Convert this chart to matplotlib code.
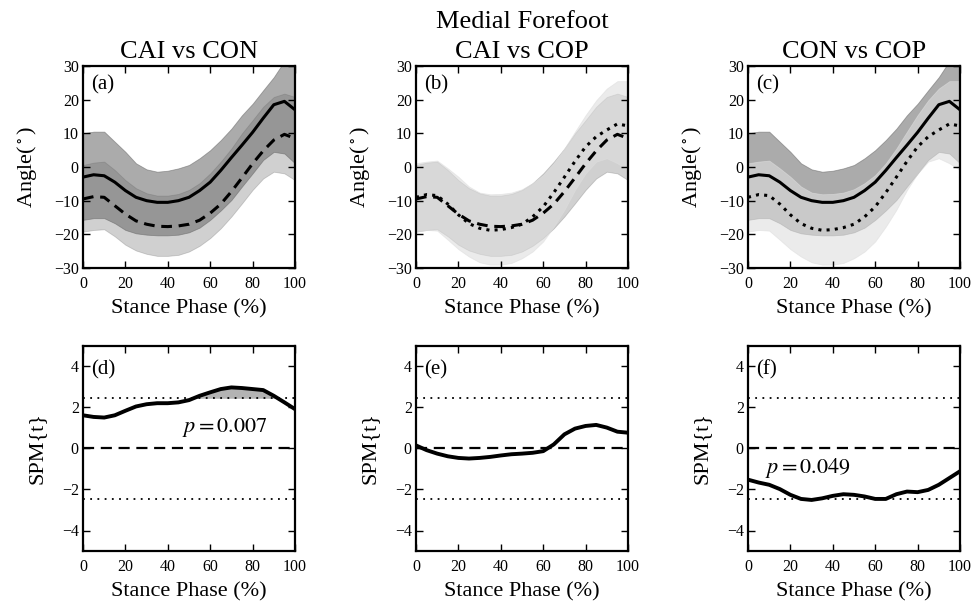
import numpy as np
import matplotlib
matplotlib.use("Agg")
import matplotlib.pyplot as plt

plt.rcParams['font.family'] = ['Liberation Serif', 'DejaVu Serif']
plt.rcParams['mathtext.fontset'] = 'stix'

# ---------------- data ----------------
stance = [0, 5, 10, 15, 20, 25, 30, 35, 40, 45, 50, 55, 60, 65, 70, 75, 80, 85, 90, 95, 100]

con_mean = [-3.0, -2.3, -2.6, -4.5, -7.0, -9.0, -10.0, -10.5, -10.5, -10.0, -9.0, -7.0, -4.5, -1.0, 2.8, 6.5, 10.3, 14.5, 18.5, 19.5, 17.0]
con_upper = [10.0, 10.5, 10.5, 7.5, 4.5, 1.1, -0.7, -1.4, -1.1, -0.4, 0.6, 2.6, 5.0, 8.0, 11.4, 15.4, 18.8, 22.8, 26.7, 31.5, 33.0]
con_lower = [-15.7, -15.2, -15.2, -16.7, -18.7, -19.7, -20.1, -20.3, -20.3, -20.1, -19.4, -18.0, -15.7, -12.9, -9.8, -5.8, -1.9, 2.1, 4.5, 4.0, 1.1]

cai_mean = [-9.5, -8.8, -9.0, -11.5, -14.0, -16.0, -17.0, -17.6, -17.7, -17.5, -17.0, -15.8, -13.7, -11.0, -7.3, -3.2, 1.0, 4.8, 8.0, 9.7, 8.5]
cai_upper = [0.6, 1.3, 1.6, -0.9, -3.9, -6.3, -7.8, -8.5, -8.5, -8.0, -6.8, -4.8, -1.9, 1.6, 5.5, 10.0, 13.9, 17.9, 20.8, 21.8, 20.8]
cai_lower = [-19.2, -18.7, -18.5, -20.6, -23.1, -24.8, -25.8, -26.4, -26.4, -26.1, -25.1, -23.4, -21.1, -18.2, -14.7, -10.8, -6.8, -3.4, -1.4, -1.9, -3.9]

cop_mean = [-9.0, -8.2, -8.5, -11.0, -14.2, -16.8, -18.2, -18.8, -18.6, -18.0, -17.0, -14.8, -11.8, -7.6, -3.0, 1.7, 6.0, 9.0, 11.0, 12.8, 12.2]
cop_upper = [1.1, 1.6, 1.9, -0.4, -2.9, -5.8, -7.6, -8.1, -8.0, -7.6, -6.6, -4.8, -2.4, 1.1, 5.5, 10.5, 15.4, 19.8, 23.3, 25.5, 25.5]
cop_lower = [-19.2, -18.7, -18.9, -21.6, -24.4, -26.6, -28.3, -29.0, -29.0, -28.5, -27.1, -25.1, -22.1, -17.7, -12.7, -6.8, -1.9, 1.6, 2.6, 1.1, -0.9]

spm_d = [1.62, 1.54, 1.51, 1.62, 1.84, 2.05, 2.16, 2.21, 2.21, 2.25, 2.36, 2.57, 2.74, 2.90, 2.98, 2.95, 2.90, 2.85, 2.57, 2.25, 1.92]
spm_e = [0.15, -0.08, -0.25, -0.38, -0.46, -0.49, -0.46, -0.41, -0.34, -0.28, -0.25, -0.21, -0.13, 0.20, 0.69, 0.97, 1.10, 1.15, 1.02, 0.82, 0.77]
spm_f = [-1.52, -1.66, -1.77, -1.98, -2.26, -2.46, -2.51, -2.43, -2.31, -2.23, -2.26, -2.34, -2.46, -2.46, -2.23, -2.10, -2.13, -2.02, -1.77, -1.44, -1.11]

thresholds = [2.45, 2.48, 2.45]
p_texts = ['$p = 0.007$', None, '$p = 0.049$']
p_pos = [(67, 1.0), None, (28, -0.95)]

titles = ['CAI vs CON', 'Medial Forefoot\nCAI vs COP', 'CON vs COP']
top_letters = ['(a)', '(b)', '(c)']
bot_letters = ['(d)', '(e)', '(f)']

groups = {
    'CON': (con_mean, con_upper, con_lower),
    'CAI': (cai_mean, cai_upper, cai_lower),
    'COP': (cop_mean, cop_upper, cop_lower),
}
pairs = [('CON', 'CAI'), ('CAI', 'COP'), ('CON', 'COP')]
band_style = {'CON': ('0.4', 0.55), 'CAI': ('0.4', 0.30), 'COP': ('0.87', 0.60)}
line_style = {'CON': dict(ls='-'), 'CAI': dict(ls=(0, (3.5, 2.2))), 'COP': dict(ls=(0, (1, 1.7)))}
spm = [spm_d, spm_e, spm_f]

x = np.array(stance)

fig = plt.figure(figsize=(9.72, 6.03), dpi=100)
lefts = [83 / 972, 416 / 972, 748 / 972]
w = 212 / 972

def style(ax):
    ax.tick_params(direction='in', top=True, right=True, length=5, width=1.0, labelsize=11.5)
    ax.tick_params(axis='x', pad=6)
    ax.tick_params(axis='y', pad=3)
    for s in ax.spines.values():
        s.set_linewidth(1.6)
    ax.set_xlim(0, 100)
    ax.set_xticks([0, 20, 40, 60, 80, 100])

for i in range(3):
    ax = fig.add_axes([lefts[i], 1 - 268 / 603, w, 202 / 603])
    style(ax)
    for g in pairs[i]:
        m, u, l = groups[g]
        c, a = band_style[g]
        ax.fill_between(x, l, u, facecolor=c, edgecolor=c, alpha=a, lw=0.6, zorder=1)
    for g in pairs[i]:
        m, u, l = groups[g]
        ax.plot(x, m, color='k', lw=2.2, zorder=3, **line_style[g])
    ax.set_ylim(-30, 30)
    ax.set_yticks([-30, -20, -10, 0, 10, 20, 30])
    ax.set_yticklabels(['\u221230', '\u221220', '\u221210', '0', '10', '20', '30'])
    ax.set_title(titles[i], fontsize=19, pad=6, linespacing=1.45)
    ax.set_xlabel('Stance Phase (%)', fontsize=16, labelpad=5)
    ax.set_ylabel(r'Angle($^\circ$)', fontsize=16, labelpad=11)
    ax.text(4, 24.5, top_letters[i], fontsize=15, ha='left', va='center')

    bx = fig.add_axes([lefts[i], 1 - 551 / 603, w, 205 / 603])
    style(bx)
    th = thresholds[i]
    y = np.array(spm[i])
    bx.axhline(0, color='k', lw=1.6, ls=(0, (5, 3)), zorder=2)
    bx.axhline(th, color='k', lw=1.3, ls=(0, (1, 3)), zorder=2)
    bx.axhline(-th, color='k', lw=1.3, ls=(0, (1, 3)), zorder=2)
    bx.fill_between(x, th, y, where=y > th, interpolate=True, color='0.7', lw=0, zorder=1)
    bx.fill_between(x, -th, y, where=y < -th, interpolate=True, color='0.7', lw=0, zorder=1)
    bx.plot(x, y, color='k', lw=2.8, zorder=3)
    bx.set_ylim(-5, 5)
    bx.set_yticks([-4, -2, 0, 2, 4])
    bx.set_yticklabels(['\u22124', '\u22122', '0', '2', '4'])
    bx.set_xlabel('Stance Phase (%)', fontsize=16, labelpad=5)
    bx.set_ylabel('SPM{t}', fontsize=16, labelpad=11)
    bx.text(4, 3.85, bot_letters[i], fontsize=15, ha='left', va='center')
    if p_texts[i]:
        bx.text(p_pos[i][0], p_pos[i][1], p_texts[i], fontsize=16, ha='center', va='center')

fig.savefig('out.png', dpi=100)
